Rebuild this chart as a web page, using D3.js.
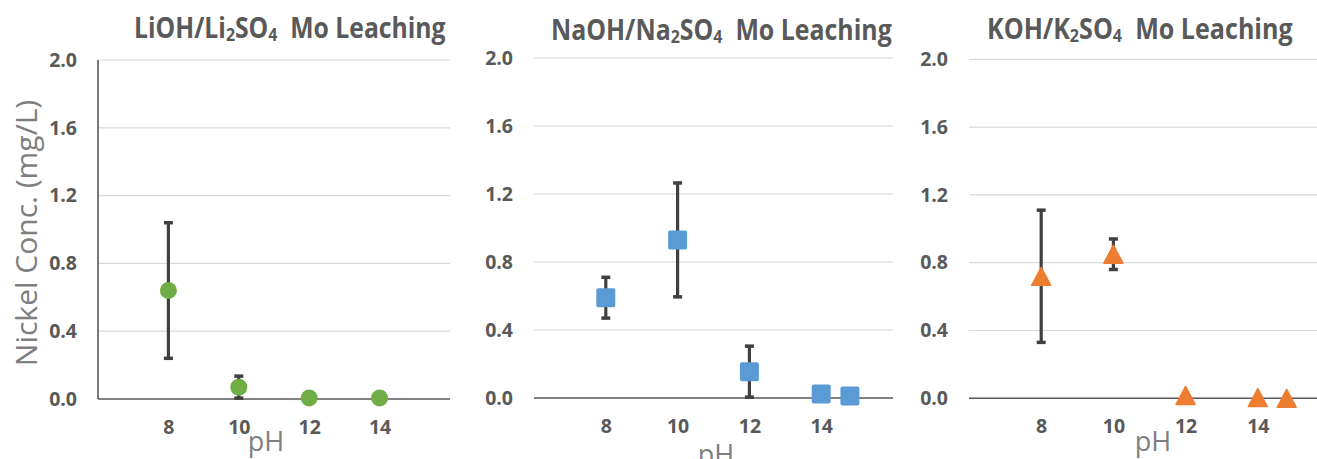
<!DOCTYPE html>
<html>
<head>
<meta charset="utf-8">
<script src="https://cdn.jsdelivr.net/npm/d3@7"></script>
<style>
  html, body { margin: 0; padding: 0; background: #fff; }
  svg { display: block; font-family: "Open Sans", "Noto Sans", sans-serif; }
</style>
</head>
<body>
<svg id="chart" width="1317" height="459"></svg>
<script>
// pH values, mean nickel concentrations (mg/L) and error half-widths per electrolyte
const liPH  = [8, 10, 12, 14];
const liVal = [0.64, 0.07, 0.006, 0.006];
const liErr = [0.40, 0.065, 0, 0];

const naPH  = [8, 10, 12, 14, 14.8];
const naVal = [0.59, 0.93, 0.155, 0.024, 0.012];
const naErr = [0.12, 0.335, 0.15, 0, 0];

const kPH   = [8, 10, 12, 14, 14.8];
const kVal  = [0.72, 0.85, 0.017, 0.004, 0];
const kErr  = [0.39, 0.09, 0, 0, 0];

const xTicks = [8, 10, 12, 14];
const yTicks = [0, 0.4, 0.8, 1.2, 1.6, 2.0];

const titleMain = ["LiOH/Li", "NaOH/Na", "KOH/K"];
const titleRest = "SO";
const titleTail = "Mo Leaching";
const yTitle = "Nickel Conc. (mg/L)";
const xTitle = "pH";

const svg = d3.select("#chart");
svg.append("rect").attr("width", 1317).attr("height", 459).attr("fill", "#fff");

const panels = [
  { pH: liPH, val: liVal, err: liErr, marker: "circle",   color: "#70AD47",
    x0: 98,  x1: 450,  yTop: 60,   yZero: 399,  yAxisLine: true,
    titleL: 134, titleW: 312, titleY: 38,
    xTitleX: 266,  xTitleY: 451, main: titleMain[0] },
  { pH: naPH, val: naVal, err: naErr, marker: "square",   color: "#5B9BD5",
    x0: 534, x1: 893,  yTop: 58,   yZero: 398,  yAxisLine: false,
    titleL: 551, titleW: 341, titleY: 40,
    xTitleX: 716,  xTitleY: 464, main: titleMain[1] },
  { pH: kPH,  val: kVal,  err: kErr,  marker: "triangle", color: "#ED7D31",
    x0: 969, x1: 1330, yTop: 59.3, yZero: 398.3, yAxisLine: false,
    titleL: 987, titleW: 306, titleY: 39,
    xTitleX: 1153, xTitleY: 451, main: titleMain[2] }
];

panels.forEach(p => {
  const g = svg.append("g");
  const x = d3.scaleLinear().domain([6, 16]).range([p.x0, p.x1]);
  const y = d3.scaleLinear().domain([0, 2]).range([p.yZero, p.yTop]);

  // horizontal gridlines
  g.append("g").selectAll("line").data(yTicks.filter(t => t > 0)).join("line")
    .attr("x1", p.x0).attr("x2", p.x1)
    .attr("y1", d => y(d)).attr("y2", d => y(d))
    .attr("stroke", "#D9D9D9").attr("stroke-width", 1.2);

  // y tick labels
  const yAxis = d3.axisLeft(y).tickValues(yTicks).tickFormat(d3.format(".1f"))
    .tickSize(0).tickPadding(21);
  const ya = g.append("g").attr("transform", `translate(${p.x0},0)`).call(yAxis);
  ya.select(".domain").remove();
  ya.attr("font-size", null).attr("font-family", null);
  ya.selectAll("text").attr("font-size", 19.5).attr("font-weight", "bold")
    .attr("fill", "#595959");

  // x tick labels
  const xAxis = d3.axisBottom(x).tickValues(xTicks).tickFormat(d3.format("d"))
    .tickSize(0).tickPadding(21);
  const xa = g.append("g").attr("transform", `translate(0,${p.yZero})`).call(xAxis);
  xa.select(".domain").remove();
  xa.attr("font-size", null).attr("font-family", null);
  xa.selectAll("text").attr("font-size", 19.5).attr("font-weight", "bold")
    .attr("fill", "#595959");

  // zero line (x axis) and optional y axis line
  g.append("line").attr("x1", p.x0).attr("x2", p.x1)
    .attr("y1", y(0)).attr("y2", y(0))
    .attr("stroke", "#595959").attr("stroke-width", 1.6);
  if (p.yAxisLine) {
    g.append("line").attr("x1", p.x0).attr("x2", p.x0)
      .attr("y1", y(2)).attr("y2", y(0))
      .attr("stroke", "#595959").attr("stroke-width", 1.6);
  }

  const pts = p.pH.map((ph, i) => ({ ph, v: p.val[i], e: p.err[i] }));

  // error bars
  const eb = g.append("g").selectAll("g").data(pts.filter(d => d.e > 0)).join("g");
  eb.append("line")
    .attr("x1", d => x(d.ph)).attr("x2", d => x(d.ph))
    .attr("y1", d => y(d.v - d.e)).attr("y2", d => y(d.v + d.e))
    .attr("stroke", "#404040").attr("stroke-width", 3.2);
  [-1, 1].forEach(s => {
    eb.append("line")
      .attr("x1", d => x(d.ph) - 4.5).attr("x2", d => x(d.ph) + 4.5)
      .attr("y1", d => y(d.v + s * d.e)).attr("y2", d => y(d.v + s * d.e))
      .attr("stroke", "#404040").attr("stroke-width", 3.5);
  });

  // markers
  const mk = g.append("g").selectAll("path").data(pts).join("path")
    .attr("fill", p.color)
    .attr("transform", d => `translate(${x(d.ph)},${y(d.v)})`);
  if (p.marker === "circle") {
    mk.attr("d", d3.symbol(d3.symbolCircle, Math.PI * 8.5 * 8.5)());
  } else if (p.marker === "square") {
    mk.attr("d", "M-9.5,-7.5Q-9.5,-9.5 -7.5,-9.5L7.5,-9.5Q9.5,-9.5 9.5,-7.5L9.5,7.5Q9.5,9.5 7.5,9.5L-7.5,9.5Q-9.5,9.5 -9.5,7.5Z");
  } else {
    mk.attr("d", "M0,-9L9.5,9L-9.5,9Z").attr("stroke", p.color)
      .attr("stroke-width", 1.5).attr("stroke-linejoin", "round");
  }

  // title with subscripts, narrowed horizontally to the panel's title span
  const tg = g.append("g");
  const t = tg.append("text").attr("x", 0).attr("y", 0)
    .attr("font-size", 28).attr("font-weight", "bold")
    .attr("fill", "#595959");
  t.append("tspan").text(p.main);
  t.append("tspan").text("2").attr("font-size", 18).attr("dy", 3);
  t.append("tspan").text(titleRest).attr("dy", -3);
  t.append("tspan").text("4").attr("font-size", 18).attr("dy", 3);
  t.append("tspan").text("\u00a0\u00a0" + titleTail).attr("dy", -3);
  const bb = t.node().getBBox();
  const sx = p.titleW / bb.width;
  tg.attr("transform", `translate(${p.titleL - bb.x * sx},${p.titleY}) scale(${sx},1)`);

  // x title
  g.append("text").attr("x", p.xTitleX).attr("y", p.xTitleY)
    .attr("text-anchor", "middle").attr("font-size", 27)
    .attr("fill", "#7F7F7F").text(xTitle);
});

// shared y axis title
svg.append("text")
  .attr("transform", "translate(37,233) rotate(-90)")
  .attr("text-anchor", "middle").attr("font-size", 30)
  .attr("fill", "#7F7F7F").text(yTitle);
</script>
</body>
</html>
